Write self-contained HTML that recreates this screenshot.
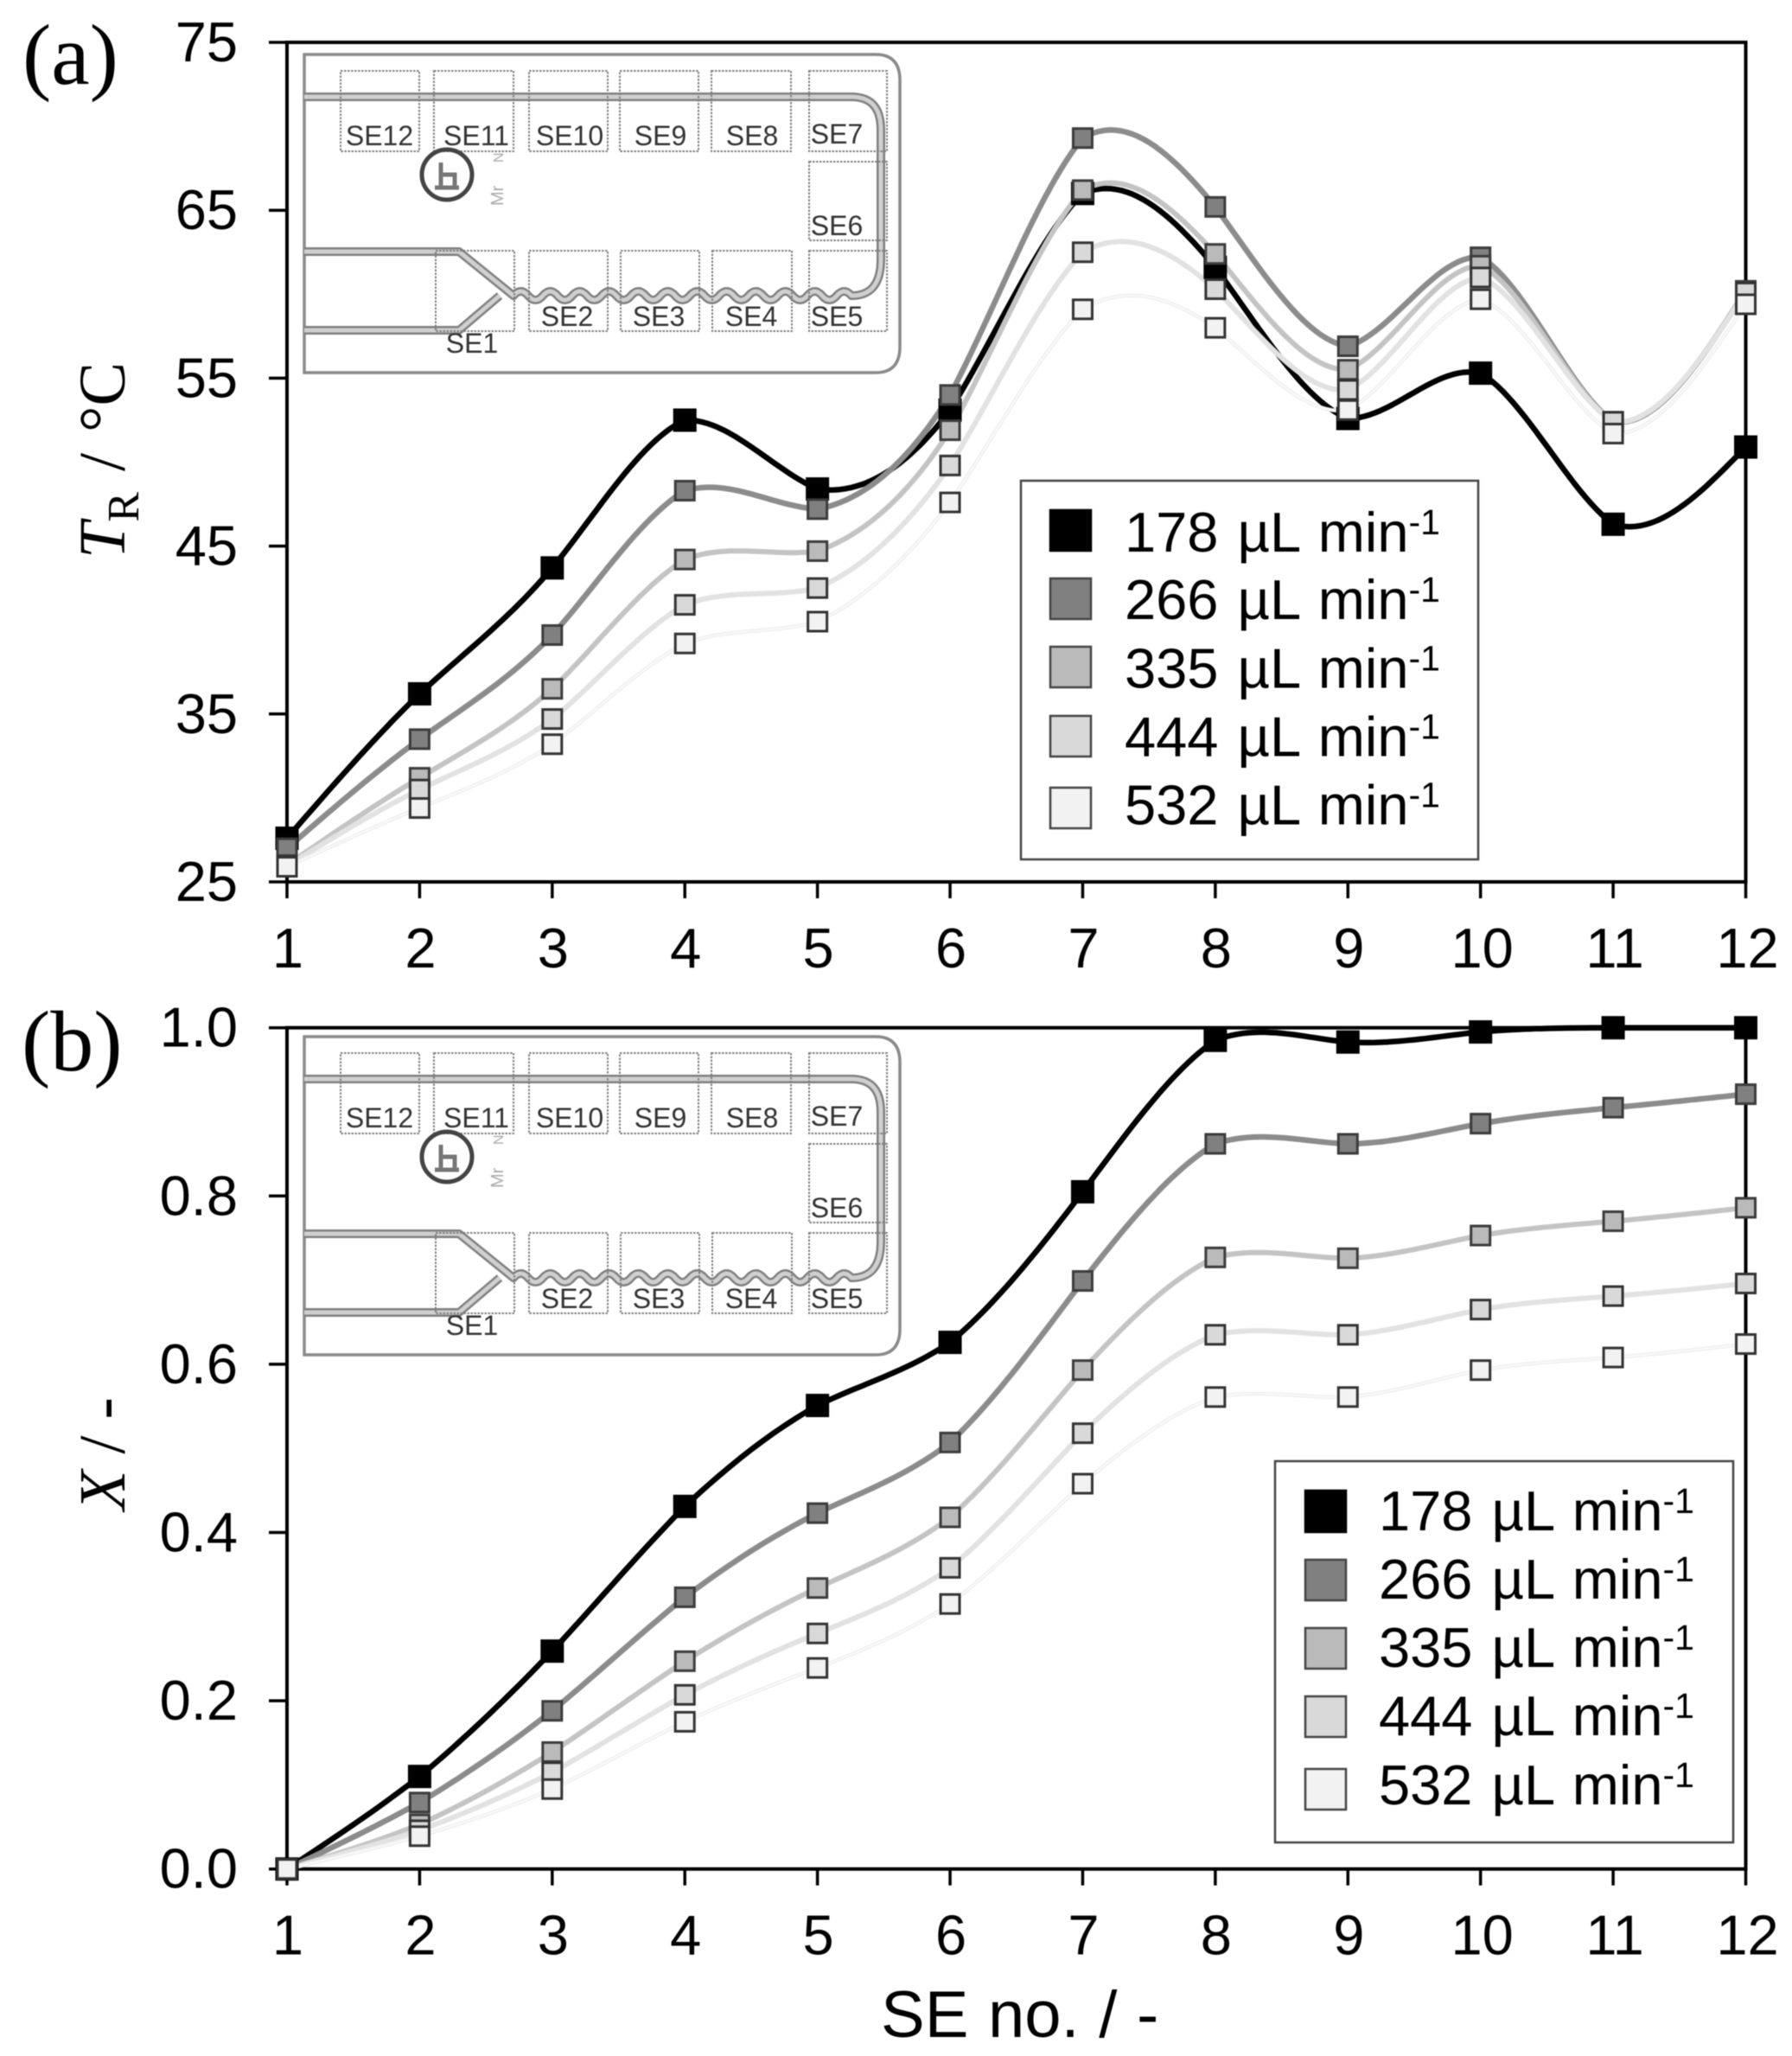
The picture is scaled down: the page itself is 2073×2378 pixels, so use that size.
<!DOCTYPE html>
<html lang="en">
<head>
<meta charset="utf-8">
<title>Reactor temperature and conversion by SE number</title>
<style>
html,body{margin:0;padding:0;background:#fff;}
svg{display:block;filter:blur(0.6px);}
text{font-family:"Liberation Sans",sans-serif;fill:#000;}
.serif{font-family:"Liberation Serif",serif;}
.se{font-size:32px;fill:#333;text-anchor:middle;}
.box{fill:none;stroke:#808080;stroke-width:2;stroke-dasharray:2.5 1.5;}
.lg{font-size:65px;word-spacing:4px;}
.sup{font-size:41px;}
</style>
</head>
<body>
<svg id="chart" xmlns="http://www.w3.org/2000/svg" width="2073" height="2378" viewBox="0 0 2073 2378">
<rect x="0" y="0" width="2073" height="2378" fill="#fff"/>

<text class="serif" x="26" y="97" font-size="100">(a)</text>
<text class="serif" x="25" y="1238" font-size="100">(b)</text>

<text class="serif" transform="translate(144,646) rotate(-90)" font-size="76" style="word-spacing:5px"><tspan font-style="italic">T</tspan><tspan font-size="52" dy="16">R</tspan><tspan dy="-16"> / °C</tspan></text>
<text class="serif" transform="translate(144,1747) rotate(-90)" font-size="76"><tspan font-style="italic">X</tspan> / -</text>
<text x="1019" y="2356" font-size="76" style="word-spacing:1.500px">SE no. / -</text>

<g>
  <path d="M352 63H1013Q1041 63 1041 93V401Q1041 431 1013 431H352Z" fill="none" stroke="#8a8a8a" stroke-width="3.5"/>
  <g fill="none" stroke-linejoin="round">
    <path stroke="#808080" stroke-width="10" d="M352 112H985Q1019 112 1019 150V300Q1019 342 985 342q-8.500 -10 -17 0q-8.500 10 -17 0q-8.500 -10 -17 0q-8.500 10 -17 0q-8.500 -10 -17 0q-8.500 10 -17 0q-8.500 -10 -17 0q-8.500 10 -17 0q-8.500 -10 -17 0q-8.500 10 -17 0q-8.500 -10 -17 0q-8.500 10 -17 0q-8.500 -10 -17 0q-8.500 10 -17 0q-8.500 -10 -17 0q-8.500 10 -17 0q-8.500 -10 -17 0q-8.500 10 -17 0q-8.500 -10 -17 0q-8.500 10 -17 0q-8.500 -10 -17 0q-8.500 10 -17 0q-8.500 -10 -17 0L531 291H352M578 342L531 382H352"/>
    <path stroke="#cfcfcf" stroke-width="5" d="M352 112H985Q1019 112 1019 150V300Q1019 342 985 342q-8.500 -10 -17 0q-8.500 10 -17 0q-8.500 -10 -17 0q-8.500 10 -17 0q-8.500 -10 -17 0q-8.500 10 -17 0q-8.500 -10 -17 0q-8.500 10 -17 0q-8.500 -10 -17 0q-8.500 10 -17 0q-8.500 -10 -17 0q-8.500 10 -17 0q-8.500 -10 -17 0q-8.500 10 -17 0q-8.500 -10 -17 0q-8.500 10 -17 0q-8.500 -10 -17 0q-8.500 10 -17 0q-8.500 -10 -17 0q-8.500 10 -17 0q-8.500 -10 -17 0q-8.500 10 -17 0q-8.500 -10 -17 0L531 291H352M578 342L531 382H352"/>
  </g>
  <g>
    <rect class="box" x="394" y="82" width="91" height="93"/>
    <rect class="box" x="502" y="82" width="92" height="93"/>
    <rect class="box" x="612" y="82" width="91" height="93"/>
    <rect class="box" x="717" y="82" width="91" height="93"/>
    <rect class="box" x="823" y="82" width="92" height="93"/>
    <rect class="box" x="936" y="82" width="90" height="93"/>
    <rect class="box" x="936" y="187" width="90" height="91"/>
    <rect class="box" x="504" y="290" width="91" height="93"/>
    <rect class="box" x="612" y="290" width="91" height="93"/>
    <rect class="box" x="718" y="290" width="91" height="93"/>
    <rect class="box" x="824" y="290" width="92" height="93"/>
    <rect class="box" x="936" y="290" width="90" height="93"/>
  </g>
  <text class="se" x="439" y="168">SE12</text>
  <text class="se" x="551" y="168">SE11</text>
  <text class="se" x="659" y="168">SE10</text>
  <text class="se" x="764" y="168">SE9</text>
  <text class="se" x="870" y="168">SE8</text>
  <text class="se" x="968" y="166">SE7</text>
  <text class="se" x="968" y="272">SE6</text>
  <text class="se" x="546" y="408">SE1</text>
  <text class="se" x="656" y="377">SE2</text>
  <text class="se" x="762" y="377">SE3</text>
  <text class="se" x="869" y="377">SE4</text>
  <text class="se" x="968" y="377">SE5</text>
  <g>
    <ellipse cx="517" cy="202" rx="29" ry="29" fill="none" stroke="#444" stroke-width="5"/>
    <path d="M510 216V188M510 202H526V216M503 217H531" fill="none" stroke="#777" stroke-width="5"/>
  </g>
  <text transform="translate(582,188) rotate(-90)" font-size="16" style="fill:#aaa">N</text>
  <text transform="translate(582,238) rotate(-90)" font-size="20" style="fill:#aaa">Mr</text>
</g>

<g transform="translate(0,1136)">
  <path d="M352 63H1013Q1041 63 1041 93V401Q1041 431 1013 431H352Z" fill="none" stroke="#8a8a8a" stroke-width="3.5"/>
  <g fill="none" stroke-linejoin="round">
    <path stroke="#808080" stroke-width="10" d="M352 112H985Q1019 112 1019 150V300Q1019 342 985 342q-8.500 -10 -17 0q-8.500 10 -17 0q-8.500 -10 -17 0q-8.500 10 -17 0q-8.500 -10 -17 0q-8.500 10 -17 0q-8.500 -10 -17 0q-8.500 10 -17 0q-8.500 -10 -17 0q-8.500 10 -17 0q-8.500 -10 -17 0q-8.500 10 -17 0q-8.500 -10 -17 0q-8.500 10 -17 0q-8.500 -10 -17 0q-8.500 10 -17 0q-8.500 -10 -17 0q-8.500 10 -17 0q-8.500 -10 -17 0q-8.500 10 -17 0q-8.500 -10 -17 0q-8.500 10 -17 0q-8.500 -10 -17 0L531 291H352M578 342L531 382H352"/>
    <path stroke="#cfcfcf" stroke-width="5" d="M352 112H985Q1019 112 1019 150V300Q1019 342 985 342q-8.500 -10 -17 0q-8.500 10 -17 0q-8.500 -10 -17 0q-8.500 10 -17 0q-8.500 -10 -17 0q-8.500 10 -17 0q-8.500 -10 -17 0q-8.500 10 -17 0q-8.500 -10 -17 0q-8.500 10 -17 0q-8.500 -10 -17 0q-8.500 10 -17 0q-8.500 -10 -17 0q-8.500 10 -17 0q-8.500 -10 -17 0q-8.500 10 -17 0q-8.500 -10 -17 0q-8.500 10 -17 0q-8.500 -10 -17 0q-8.500 10 -17 0q-8.500 -10 -17 0q-8.500 10 -17 0q-8.500 -10 -17 0L531 291H352M578 342L531 382H352"/>
  </g>
  <g>
    <rect class="box" x="394" y="82" width="91" height="93"/>
    <rect class="box" x="502" y="82" width="92" height="93"/>
    <rect class="box" x="612" y="82" width="91" height="93"/>
    <rect class="box" x="717" y="82" width="91" height="93"/>
    <rect class="box" x="823" y="82" width="92" height="93"/>
    <rect class="box" x="936" y="82" width="90" height="93"/>
    <rect class="box" x="936" y="187" width="90" height="91"/>
    <rect class="box" x="504" y="290" width="91" height="93"/>
    <rect class="box" x="612" y="290" width="91" height="93"/>
    <rect class="box" x="718" y="290" width="91" height="93"/>
    <rect class="box" x="824" y="290" width="92" height="93"/>
    <rect class="box" x="936" y="290" width="90" height="93"/>
  </g>
  <text class="se" x="439" y="168">SE12</text>
  <text class="se" x="551" y="168">SE11</text>
  <text class="se" x="659" y="168">SE10</text>
  <text class="se" x="764" y="168">SE9</text>
  <text class="se" x="870" y="168">SE8</text>
  <text class="se" x="968" y="166">SE7</text>
  <text class="se" x="968" y="272">SE6</text>
  <text class="se" x="546" y="408">SE1</text>
  <text class="se" x="656" y="377">SE2</text>
  <text class="se" x="762" y="377">SE3</text>
  <text class="se" x="869" y="377">SE4</text>
  <text class="se" x="968" y="377">SE5</text>
  <g>
    <ellipse cx="517" cy="202" rx="29" ry="29" fill="none" stroke="#444" stroke-width="5"/>
    <path d="M510 216V188M510 202H526V216M503 217H531" fill="none" stroke="#777" stroke-width="5"/>
  </g>
  <text transform="translate(582,188) rotate(-90)" font-size="16" style="fill:#aaa">N</text>
  <text transform="translate(582,238) rotate(-90)" font-size="20" style="fill:#aaa">Mr</text>
</g>

<g id="axes-layer"></g>
<g id="lines-layer"></g>
<g id="markers-layer"></g>

<g>
  <rect x="1181" y="556" width="529" height="438" fill="#fff" stroke="#444" stroke-width="2.5"/>
  <g><rect x="1215" y="590" width="47" height="47" fill="#000" stroke="#000" stroke-width="2.500"/><text class="lg" x="1301" y="638">178 µL min<tspan class="sup" dy="-20">-1</tspan></text></g>
  <g><rect x="1215" y="669" width="47" height="47" fill="#808080" stroke="#444" stroke-width="2.500"/><text class="lg" x="1301" y="716">266 µL min<tspan class="sup" dy="-20">-1</tspan></text></g>
  <g><rect x="1215" y="748" width="47" height="47" fill="#bababa" stroke="#444" stroke-width="2.500"/><text class="lg" x="1301" y="795.500">335 µL min<tspan class="sup" dy="-20">-1</tspan></text></g>
  <g><rect x="1215" y="828" width="47" height="47" fill="#d9d9d9" stroke="#444" stroke-width="2.500"/><text class="lg" x="1301" y="874.500">444 µL min<tspan class="sup" dy="-20">-1</tspan></text></g>
  <g><rect x="1215" y="911" width="47" height="47" fill="#f2f2f2" stroke="#444" stroke-width="2.500"/><text class="lg" x="1301" y="953.500">532 µL min<tspan class="sup" dy="-20">-1</tspan></text></g>
</g>

<g>
  <rect x="1475" y="1690" width="530" height="441" fill="#fff" stroke="#444" stroke-width="2.5"/>
  <g><rect x="1510" y="1724" width="47" height="48" fill="#000" stroke="#000" stroke-width="2.500"/><text class="lg" x="1595" y="1770">178 µL min<tspan class="sup" dy="-20">-1</tspan></text></g>
  <g><rect x="1510" y="1804" width="47" height="47" fill="#808080" stroke="#444" stroke-width="2.500"/><text class="lg" x="1595" y="1849">266 µL min<tspan class="sup" dy="-20">-1</tspan></text></g>
  <g><rect x="1510" y="1883" width="47" height="47" fill="#bababa" stroke="#444" stroke-width="2.500"/><text class="lg" x="1595" y="1928">335 µL min<tspan class="sup" dy="-20">-1</tspan></text></g>
  <g><rect x="1510" y="1962" width="47" height="47" fill="#d9d9d9" stroke="#444" stroke-width="2.500"/><text class="lg" x="1595" y="2007">444 µL min<tspan class="sup" dy="-20">-1</tspan></text></g>
  <g><rect x="1510" y="2046" width="47" height="47" fill="#f2f2f2" stroke="#444" stroke-width="2.500"/><text class="lg" x="1595" y="2087">532 µL min<tspan class="sup" dy="-20">-1</tspan></text></g>
</g>
</svg>

<script>
// ---- chart data ----
const seNumbers = [1, 2, 3, 4, 5, 6, 7, 8, 9, 10, 11, 12];
const xTickLabels = ["1", "2", "3", "4", "5", "6", "7", "8", "9", "10", "11", "12"];
const tempTicks = [25, 35, 45, 55, 65, 75];
const tempTickLabels = ["25", "35", "45", "55", "65", "75"];
const convTicks = [0, 0.2, 0.4, 0.6, 0.8, 1];
const convTickLabels = ["0.0", "0.2", "0.4", "0.6", "0.8", "1.0"];
const flowRates = ["178", "266", "335", "444", "532"];

const temp178 = [27.6, 36.2, 43.7, 52.5, 48.4, 53.1, 66.0, 61.6, 52.6, 55.3, 46.3, 50.9];
const temp266 = [27.0, 33.5, 39.7, 48.3, 47.2, 54.0, 69.3, 65.2, 56.9, 62.2, 52.4, 60.2];
const temp335 = [26.0, 31.2, 36.5, 44.2, 44.7, 51.9, 66.2, 62.4, 55.5, 61.7, 52.4, 60.2];
const temp444 = [25.95, 30.5, 34.7, 41.5, 42.5, 49.8, 62.5, 60.3, 54.3, 61.0, 52.4, 60.1];
const temp532 = [25.9, 29.4, 33.2, 39.2, 40.5, 47.6, 59.1, 58.0, 53.1, 59.7, 51.7, 59.4];

const conv178 = [0, 0.110, 0.259, 0.431, 0.551, 0.626, 0.805, 0.985, 0.983, 0.995, 1, 1];
const conv266 = [0, 0.079, 0.188, 0.323, 0.423, 0.507, 0.699, 0.862, 0.862, 0.886, 0.905, 0.921];
const conv335 = [0, 0.053, 0.139, 0.247, 0.334, 0.418, 0.593, 0.727, 0.726, 0.753, 0.770, 0.786];
const conv444 = [0, 0.046, 0.115, 0.207, 0.280, 0.358, 0.518, 0.635, 0.635, 0.665, 0.681, 0.696];
const conv532 = [0, 0.039, 0.095, 0.175, 0.239, 0.315, 0.458, 0.561, 0.561, 0.593, 0.608, 0.624];

// ---- styling ----
const lineColors = ["#000000", "#8c8c8c", "#c4c4c4", "#e2e2e2", "#efefef"];
const lineWidths = [6.5, 6.5, 6, 6, 4.5];
const fillColors = ["#000000", "#808080", "#bababa", "#d9d9d9", "#f2f2f2"];
const strokeColors = ["#000000", "#3c3c3c", "#3c3c3c", "#333333", "#333333"];
const splineTightness = 0.75;

// ---- axis functions ----
const NS = "http://www.w3.org/2000/svg";
const xLeft = 332, xRight = 2019.5;
function xScale(se) { return xLeft + (se - 1) * (xRight - xLeft) / 11; }
function yTemp(v) { return 1020 - (v - 25) * (971 / 50); }
function yConv(v) { return 2161.7 - v * 973; }

const axesLayer = document.getElementById("axes-layer");
const linesLayer = document.getElementById("lines-layer");
const markersLayer = document.getElementById("markers-layer");

function mk(tag, parent, props) {
  const el = document.createElementNS(NS, tag);
  for (const k in props) el.setAttribute(k, props[k]);
  parent.appendChild(el);
  return el;
}

// natural cubic spline through the data, evaluated to a path
function splinePath(xs, ys) {
  const n = xs.length;
  const u = new Array(n).fill(0), m = new Array(n).fill(0);
  for (let i = 1; i < n - 1; i++) {
    const sig = (xs[i] - xs[i - 1]) / (xs[i + 1] - xs[i - 1]);
    const p = sig * m[i - 1] + 2;
    m[i] = (sig - 1) / p;
    const d = (ys[i + 1] - ys[i]) / (xs[i + 1] - xs[i]) - (ys[i] - ys[i - 1]) / (xs[i] - xs[i - 1]);
    u[i] = (6 * d / (xs[i + 1] - xs[i - 1]) - sig * u[i - 1]) / p;
  }
  for (let i = n - 2; i >= 0; i--) m[i] = m[i] * m[i + 1] + u[i];
  let d = "M" + xs[0].toFixed(1) + " " + ys[0].toFixed(1);
  for (let i = 0; i < n - 1; i++) {
    const h = xs[i + 1] - xs[i];
    for (let s = 1; s <= 24; s++) {
      const b = s / 24, a = 1 - b;
      const px = a * xs[i] + b * xs[i + 1];
      const py = a * ys[i] + b * ys[i + 1] + splineTightness * ((a * a * a - a) * m[i] + (b * b * b - b) * m[i + 1]) * h * h / 6;
      d += "L" + px.toFixed(1) + " " + py.toFixed(1);
    }
  }
  return d;
}

function drawAxes(panel, yScale, ticks, labels) {
  const g = mk("g", axesLayer, {});
  
  
  const yTop = yScale(ticks[ticks.length - 1]);
  const yBottom = yScale(ticks[0]);
  const frame = mk("rect", g, { x: xLeft, y: yTop, width: xRight - xLeft, height: yBottom - yTop, fill: "none", stroke: "#000", "stroke-width": 4 });
  
  
  seNumbers.forEach(function (se, i) {
    const tick = mk("line", g, { x1: xScale(se), x2: xScale(se), y1: yBottom, y2: yBottom + 19, stroke: "#000", "stroke-width": 3.5 });
    
    
    const lab = mk("text", g, { x: xScale(se) + (i >= 9 ? 2 : 1), y: yBottom + 99, "font-size": 65, "text-anchor": "middle" });
    lab.textContent = xTickLabels[i];
    
    
  });
  ticks.forEach(function (t, i) {
    const tick = mk("line", g, { x1: xLeft - 21, x2: xLeft, y1: yScale(t), y2: yScale(t), stroke: "#000", "stroke-width": 3.5 });
    
    
    const lab = mk("text", g, { x: 275, y: yScale(t) + 22, "font-size": 65, "text-anchor": "end" });
    lab.textContent = labels[i];
    
    
  });
}

function drawSeries(panel, yScale, seriesList) {
  const xs = seNumbers.map(xScale);
  seriesList.forEach(function (vals, k) {
    const d = splinePath(xs, vals.map(yScale));
    const line = mk("path", linesLayer, { d: d, fill: "none", stroke: lineColors[k], "stroke-width": lineWidths[k], "stroke-linejoin": "round" });
    
    
    if (k === 4) {
      const inner = mk("path", linesLayer, { d: d, fill: "none", stroke: "#fbfbfb", "stroke-width": 1.6 });
      
      
    }
  });
  seriesList.forEach(function (vals, k) {
    vals.forEach(function (v, i) {
      const size = k === 0 ? 25 : 22;
      const r = mk("rect", markersLayer, {
        x: xScale(seNumbers[i]) - size / 2, y: yScale(v) - size / 2, width: size, height: size,
        fill: fillColors[k], stroke: strokeColors[k], "stroke-width": k === 0 ? 2 : 3
      });
      
      
    });
  });
}

drawAxes("a", yTemp, tempTicks, tempTickLabels);
drawAxes("b", yConv, convTicks, convTickLabels);
drawSeries("a", yTemp, [temp178, temp266, temp335, temp444, temp532]);
drawSeries("b", yConv, [conv178, conv266, conv335, conv444, conv532]);
</script>
</body>
</html>
